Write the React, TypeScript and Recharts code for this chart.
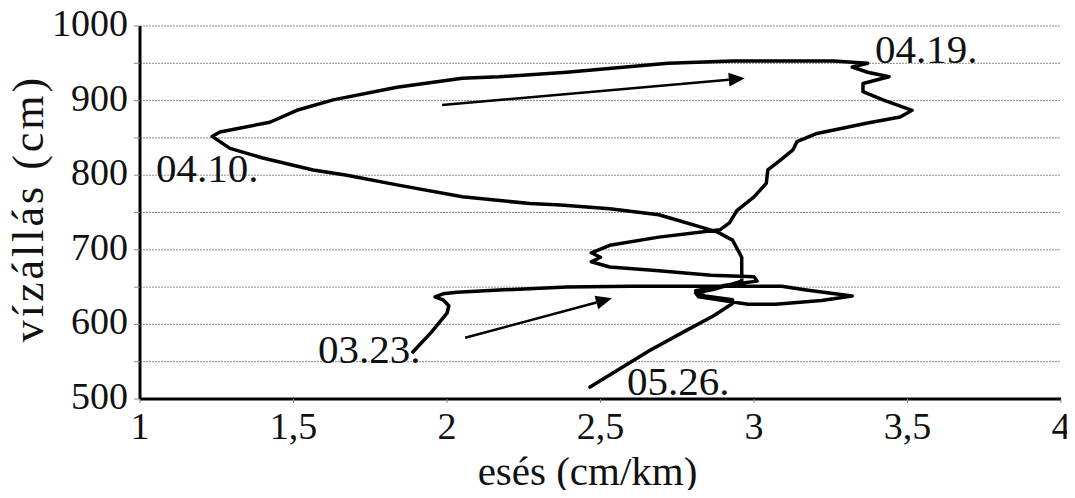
import React from 'react';
import {
  LineChart,
  Line,
  XAxis,
  YAxis,
  CartesianGrid,
  ReferenceLine,
  ReferenceDot,
  Label,
} from 'recharts';

// esés (cm/km) and vízállás (cm), in time order 03.23. -> 05.26.
const eses = [
  1.889, 1.95, 2.0, 2.006, 1.987, 1.961, 1.987, 2.033, 2.17, 2.39, 2.6, 2.8, 3.09,
  3.17, 3.32, 3.22, 3.07, 2.98, 2.9, 2.82, 2.81, 2.87, 2.96, 2.96, 2.96, 2.93, 2.88,
  2.69, 2.53, 2.37, 2.27, 2.05, 1.837, 1.674, 1.564, 1.4, 1.293, 1.235,
  1.26, 1.423, 1.511, 1.629, 1.837, 2.05, 2.17, 2.39, 2.72, 2.93, 3.26, 3.37,
  3.32, 3.37, 3.44, 3.355, 3.355, 3.42, 3.515, 3.476, 3.37, 3.205, 3.14, 3.127,
  3.085, 3.045, 3.04, 3.0, 2.945, 2.92, 2.89,
  2.69, 2.53, 2.47, 2.5, 2.47, 2.53, 2.69, 2.86, 3.0, 3.01,
  2.9, 2.81, 2.84, 2.93, 2.93, 2.87, 2.78, 2.66, 2.466,
];
const vizallas = [
  563, 590, 615, 625, 633, 637, 641, 643, 646, 650, 651, 651, 651,
  646, 638, 632, 627, 627, 632, 637, 642, 647, 658, 675, 690, 713, 724,
  747, 755, 760, 762, 771, 787, 800, 807, 823, 836, 852,
  858, 871, 887, 901, 918, 930, 932, 938, 950, 953, 953, 950,
  945, 938, 932, 923, 912, 901, 887, 878, 870, 856, 845, 834,
  820, 807, 789, 771, 753, 736, 727,
  717, 706, 696, 690, 684, 677, 672, 666, 664, 658,
  652, 645, 638, 633, 628, 612, 592, 565, 516,
];

const xTicks = [1, 1.5, 2, 2.5, 3, 3.5, 4];
const yTicks = [500, 550, 600, 650, 700, 750, 800, 850, 900, 950, 1000];

const dateLabels = ['03.23.', '04.10.', '04.19.', '05.26.'];
const dateX = [1.58, 1.052, 3.394, 2.586];
const dateY = [548, 791, 950, 505];

// direction arrows: [from x, from y, to x, to y]
const arrows = [
  [1.984, 894, 2.97, 930],
  [2.059, 582, 2.537, 635],
];

const data = eses.map((x, i) => ({ x, y: vizallas[i] }));

const FONT = 'Liberation Serif, Tinos, Times New Roman, Times, serif';
const txt = (size: number) => ({ fontFamily: FONT, fontSize: size });

const XTick = (props: any) => {
  const { x, y, payload } = props;
  return (
    <text x={x} y={y} dy={34} textAnchor="middle" style={txt(38)} fill="#111">
      {String(payload.value).replace('.', ',')}
    </text>
  );
};

const YTick = (props: any) => {
  const { x, y, payload } = props;
  if (payload.value % 100 !== 0) return null;
  return (
    <text x={x} y={y} dy={10} textAnchor="end" style={txt(38)} fill="#111">
      {payload.value}
    </text>
  );
};

const Arrow = (props: any) => {
  const { x1, y1, x2, y2 } = props;
  const a = Math.atan2(y2 - y1, x2 - x1);
  const len = 16;
  const w = 7;
  const bx = x2 - len * Math.cos(a);
  const by = y2 - len * Math.sin(a);
  const p1 = `${bx + w * Math.sin(a)},${by - w * Math.cos(a)}`;
  const p2 = `${bx - w * Math.sin(a)},${by + w * Math.cos(a)}`;
  return (
    <g>
      <line x1={x1} y1={y1} x2={bx} y2={by} stroke="#000" strokeWidth={2.5} />
      <polygon points={`${x2},${y2} ${p1} ${p2}`} fill="#000" />
    </g>
  );
};

export default function App() {
  return (
    <div style={{ width: 1075, height: 498, margin: -8, background: '#fff' }}>
      <LineChart
        width={1075}
        height={498}
        data={data}
        margin={{ top: 26, right: 14, left: 0, bottom: 0 }}
      >
        <CartesianGrid
          vertical={false}
          stroke="#8a8a8a"
          strokeDasharray="2 1"
          strokeWidth={1}
        />
        <XAxis
          type="number"
          dataKey="x"
          domain={[1, 4]}
          ticks={xTicks}
          height={99}
          tickSize={4}
          tickMargin={2}
          tickLine={{ stroke: '#888' }}
          axisLine={{ stroke: '#000', strokeWidth: 3 }}
          tick={<XTick />}
          interval={0}
        >
          <Label
            content={(p: any) => {
              const vb = p.viewBox;
              return (
                <text
                  x={vb.x + vb.width / 2 - 13}
                  y={vb.y + 86}
                  textAnchor="middle"
                  style={txt(41)}
                  fill="#111"
                >
                  esés (cm/km)
                </text>
              );
            }}
          />
        </XAxis>
        <YAxis
          type="number"
          domain={[500, 1000]}
          ticks={yTicks}
          width={140}
          tickSize={6}
          tickMargin={6}
          tickLine={{ stroke: '#888' }}
          axisLine={{ stroke: '#000', strokeWidth: 3 }}
          tick={<YTick />}
          interval={0}
        >
          <Label
            content={(p: any) => {
              const vb = p.viewBox;
              const cx = vb.x + 28;
              const cy = vb.y + vb.height / 2 - 4;
              return (
                <text
                  x={cx}
                  y={cy}
                  textAnchor="middle"
                  dominantBaseline="central"
                  transform={`rotate(-90, ${cx}, ${cy})`}
                  style={{ ...txt(44), letterSpacing: 3 }}
                  fill="#111"
                >
                  vízállás (cm)
                </text>
              );
            }}
          />
        </YAxis>
        {arrows.map((a, i) => (
          <ReferenceLine
            key={`arrow-${i}`}
            segment={[
              { x: a[0], y: a[1] },
              { x: a[2], y: a[3] },
            ]}
            shape={<Arrow />}
            ifOverflow="visible"
          />
        ))}
        <Line
          type="linear"
          dataKey="y"
          stroke="#000"
          strokeWidth={3.5}
          strokeLinejoin="round"
          strokeLinecap="round"
          dot={false}
          activeDot={false}
          isAnimationActive={false}
        />
        {dateLabels.map((t, i) => (
          <ReferenceDot
            key={t}
            x={dateX[i]}
            y={dateY[i]}
            ifOverflow="visible"
            shape={(p: any) => (
              <text x={p.cx} y={p.cy} style={txt(41)} fill="#111">
                {t}
              </text>
            )}
          />
        ))}
      </LineChart>
    </div>
  );
}
